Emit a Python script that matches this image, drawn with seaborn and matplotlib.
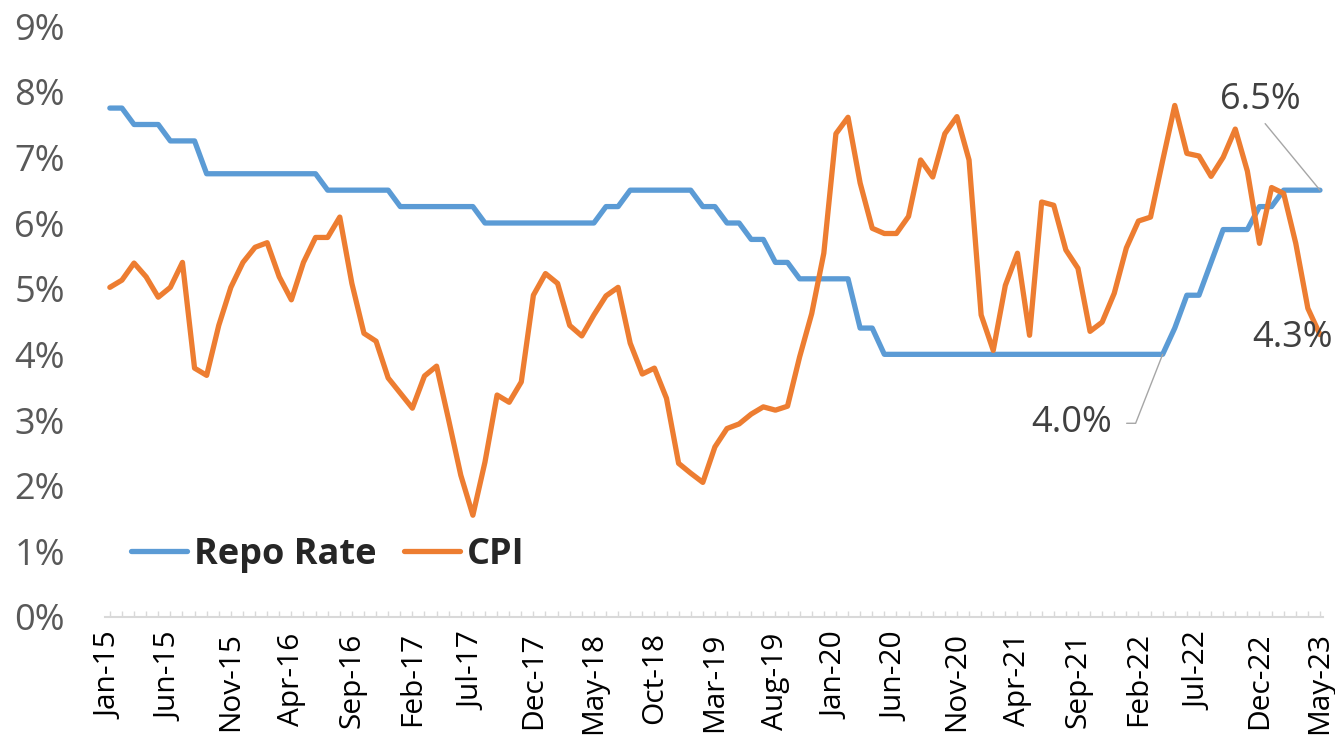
import numpy as np
import pandas as pd
import matplotlib
matplotlib.use("Agg")
import matplotlib.pyplot as plt
from matplotlib.ticker import FixedLocator, FuncFormatter
import seaborn as sns

# Monthly data, Jan-15 .. May-23 (values in %)
months = pd.date_range("2015-01-01", "2023-05-01", freq="MS")
month_labels = list(months.strftime("%b-%y"))

repo_rate = [
    7.75, 7.75, 7.5, 7.5, 7.5, 7.25, 7.25, 7.25, 6.75, 6.75,
    6.75, 6.75, 6.75, 6.75, 6.75, 6.75, 6.75, 6.75, 6.5, 6.5,
    6.5, 6.5, 6.5, 6.5, 6.25, 6.25, 6.25, 6.25, 6.25, 6.25,
    6.25, 6.0, 6.0, 6.0, 6.0, 6.0, 6.0, 6.0, 6.0, 6.0,
    6.0, 6.25, 6.25, 6.5, 6.5, 6.5, 6.5, 6.5, 6.5, 6.25,
    6.25, 6.0, 6.0, 5.75, 5.75, 5.4, 5.4, 5.15, 5.15, 5.15,
    5.15, 5.15, 4.4, 4.4, 4.0, 4.0, 4.0, 4.0, 4.0, 4.0,
    4.0, 4.0, 4.0, 4.0, 4.0, 4.0, 4.0, 4.0, 4.0, 4.0,
    4.0, 4.0, 4.0, 4.0, 4.0, 4.0, 4.0, 4.0, 4.4, 4.9,
    4.9, 5.4, 5.9, 5.9, 5.9, 6.25, 6.25, 6.5, 6.5, 6.5,
    6.5,
]

cpi = [
    5.02, 5.13, 5.39, 5.18, 4.87, 5.02, 5.40, 3.79, 3.68, 4.44,
    5.02, 5.40, 5.63, 5.70, 5.18, 4.83, 5.40, 5.78, 5.78, 6.09,
    5.08, 4.32, 4.20, 3.64, 3.41, 3.18, 3.67, 3.82, 3.00, 2.16,
    1.55, 2.36, 3.38, 3.27, 3.58, 4.90, 5.23, 5.08, 4.44, 4.28,
    4.60, 4.89, 5.02, 4.17, 3.70, 3.79, 3.33, 2.34, 2.19, 2.05,
    2.59, 2.87, 2.94, 3.09, 3.20, 3.15, 3.21, 3.96, 4.62, 5.54,
    7.36, 7.61, 6.61, 5.92, 5.84, 5.84, 6.10, 6.96, 6.70, 7.36,
    7.62, 6.96, 4.60, 4.06, 5.05, 5.54, 4.29, 6.32, 6.27, 5.59,
    5.31, 4.35, 4.49, 4.93, 5.62, 6.03, 6.09, 6.95, 7.79, 7.06,
    7.02, 6.71, 7.00, 7.43, 6.79, 5.69, 6.54, 6.45, 5.69, 4.70,
    4.30,
]

series_names = ["Repo Rate", "CPI"]
colors = {"Repo Rate": "#5B9BD5", "CPI": "#ED7D31"}

df = pd.DataFrame({
    "month": np.arange(len(month_labels)),
    "Repo Rate": repo_rate,
    "CPI": cpi,
})
long_df = df.melt(id_vars="month", var_name="series", value_name="rate")

sns.set_theme(style="white")
plt.rcParams["font.family"] = ["Open Sans", "DejaVu Sans"]

fig = plt.figure(figsize=(13.35, 7.35), dpi=100)
ax = fig.add_axes([105 / 1335, 118 / 735, (1323 - 105) / 1335, (617 - 26) / 735])

sns.lineplot(data=long_df, x="month", y="rate", hue="series", hue_order=series_names,
             palette=colors, linewidth=3.8, ax=ax, legend=False)
for line in ax.get_lines():
    line.set_solid_capstyle("round")
    line.set_solid_joinstyle("round")

ax.set_xlim(-0.4, 100.25)
ax.set_ylim(0, 9)

# y axis
ax.set_yticks(range(0, 10))
ax.yaxis.set_major_formatter(FuncFormatter(lambda v, p: f"{v:.0f}%"))
ax.tick_params(axis="y", length=0, pad=29, labelsize=26, labelcolor="#595959")

# x axis: every month a tick, every fifth month a label
ax.xaxis.set_major_locator(FixedLocator(df["month"][::5]))
ax.set_xticklabels(month_labels[::5], rotation=90)
ax.xaxis.set_minor_locator(FixedLocator(df["month"]))
ax.tick_params(axis="x", which="both", direction="in", length=4, width=1, color="#d9d9d9",
               bottom=True)
ax.tick_params(axis="x", which="major", pad=11, labelsize=21.5, labelcolor="black")

for side in ["left", "top", "right"]:
    ax.spines[side].set_visible(False)
ax.spines["bottom"].set_color("#d9d9d9")
ax.spines["bottom"].set_linewidth(1.5)
ax.set_xlabel("")
ax.set_ylabel("")

# legend
handles = [plt.Line2D([], [], color=colors[s], linewidth=3.8, solid_capstyle="round")
           for s in series_names]
fig.legend(handles, series_names, loc="center left", bbox_to_anchor=(131 / 1335, 1 - 555 / 735),
           ncol=2, frameon=False, handlelength=1.55, handletextpad=0.2, columnspacing=0.75,
           borderpad=0, borderaxespad=0,
           prop={"family": "Open Sans", "weight": "bold", "size": 26})

# data labels
lbl = dict(fontsize=26, color="#404040", ha="center", va="center")
leader = dict(arrowstyle="-", color="#a6a6a6", linewidth=1)
ax.annotate(f"{repo_rate[-1]:.1f}%", xy=(100, repo_rate[-1]), xytext=(95.1, 7.87),
            arrowprops=dict(leader, shrinkA=2, shrinkB=0,
                            relpos=(0.5, 0.0)), **lbl)
ax.annotate(f"{repo_rate[87]:.1f}%", xy=(87, repo_rate[87]), xytext=(79.5, 2.95),
            arrowprops=dict(leader, shrinkA=8, shrinkB=0,
                            connectionstyle="angle,angleA=0,angleB=68.6,rad=0"), **lbl)
ax.annotate(f"{cpi[-1]:.1f}%", xy=(100, cpi[-1]), xytext=(97.7, 4.25), **lbl)

fig.savefig("out.png", dpi=100)
